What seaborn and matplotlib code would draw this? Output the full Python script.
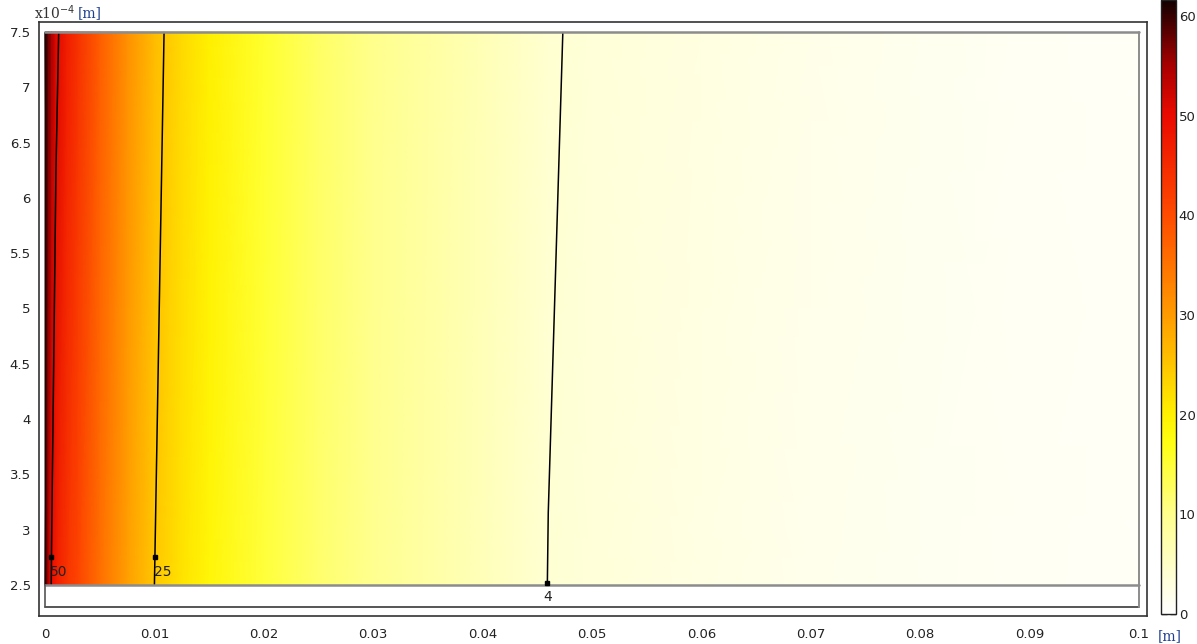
import numpy as np
import matplotlib
matplotlib.use("Agg")
import matplotlib.pyplot as plt
import seaborn as sns
from matplotlib.colors import LinearSegmentedColormap, Normalize
from matplotlib.ticker import FuncFormatter

# Field samples (x in m, y in 1e-4 m, values in colorbar units)
x_pos = [0, 0.0003, 0.0006, 0.001, 0.002, 0.003, 0.005, 0.0075, 0.01, 0.0125,
         0.015, 0.02, 0.025, 0.03, 0.04, 0.046, 0.05, 0.06, 0.07, 0.08, 0.09, 0.1]
y_rows = [2.5, 7.5]
val_bottom = [61.5, 53.5, 49.6, 47.0, 43.5, 41.0, 35.5, 29.5, 25.0, 21.5,
              19.0, 14.8, 12.0, 9.7, 6.1, 3.97, 3.4, 2.5, 1.9, 1.4, 1.05, 0.75]
val_top = [61.5, 58.0, 55.0, 51.0, 47.0, 44.0, 38.0, 31.5, 26.2, 22.8,
           20.0, 15.5, 12.5, 10.0, 6.3, 4.2, 3.6, 2.7, 2.0, 1.5, 1.1, 0.8]

contour_levels = [4, 25, 50]
label_text = ["4", "25", "50"]
label_y = [2.52, 2.75, 2.75]

x_ticks = [0, 0.01, 0.02, 0.03, 0.04, 0.05, 0.06, 0.07, 0.08, 0.09, 0.1]
y_ticks = [2.5, 3, 3.5, 4, 4.5, 5, 5.5, 6, 6.5, 7, 7.5]
cbar_ticks = [0, 10, 20, 30, 40, 50, 60]
v_max = 61.6

# colour ramp: white -> yellow -> orange -> red -> black
ramp_vals = [0, 4, 10, 17, 20, 30, 40, 50, 55, 61.6]
ramp_cols = ["#ffffff", "#ffffd2", "#ffff8c", "#ffff14", "#fff000", "#ff9b00",
             "#ff4b00", "#eb0a00", "#aa0000", "#140000"]

sns.set_theme(style="white")
plt.rcParams['font.family'] = ['DejaVu Sans']

cmap = LinearSegmentedColormap.from_list(
    "heat_r", list(zip(np.array(ramp_vals) / v_max, ramp_cols)))
norm = Normalize(vmin=0, vmax=v_max)

fig = plt.figure(figsize=(11.97, 6.44), dpi=100)
ax = fig.add_axes([39 / 1197, 1 - 616 / 644, (1147 - 39) / 1197, (616 - 22) / 644])
cax = fig.add_axes([1161 / 1197, 1 - 614 / 644, 15 / 1197, 614 / 644])

X, Y = np.meshgrid(x_pos, y_rows)
Z = np.array([val_bottom, val_top])
mesh = ax.pcolormesh(X, Y, Z, cmap=cmap, norm=norm, shading="gouraud", zorder=1)

cs = ax.contour(X, Y, Z, levels=contour_levels, colors="black", linewidths=1.1, zorder=3)

# geometry boundaries
ax.plot([0, 0.1], [7.5, 7.5], color="#8c8c8c", lw=1.8, zorder=4)
ax.plot([0, 0.1], [2.5, 2.5], color="#8c8c8c", lw=1.8, zorder=4)
ax.plot([0, 0.1], [2.3, 2.3], color="#555555", lw=1.4, zorder=4)
ax.plot([0.1, 0.1], [2.3, 7.5], color="#8c8c8c", lw=1.4, zorder=4)
ax.plot([0, 0], [2.3, 2.5], color="#555555", lw=1.2, zorder=4)

# contour labels with square markers
for lev, txt, ly in zip(contour_levels, label_text, label_y):
    seg = cs.allsegs[contour_levels.index(lev)][0]
    order = np.argsort(seg[:, 1])
    lx = np.interp(ly, seg[order, 1], seg[order, 0])
    ax.plot(lx, ly, marker="s", ms=3.5, color="black", zorder=5)
    if txt == "4":
        ax.text(lx, ly - 0.13, txt, ha="center", va="center", fontsize=10, color="#222222")
    else:
        ax.text(lx - 0.0001, ly - 0.13, txt, ha="left", va="center", fontsize=10, color="#222222")

ax.set_xlim(-0.00055, 0.10073)
ax.set_ylim(2.22, 7.59)
ax.set_xticks(x_ticks)
ax.set_yticks(y_ticks)
ax.xaxis.set_major_formatter(FuncFormatter(lambda v, p: f"{v:g}"))
ax.yaxis.set_major_formatter(FuncFormatter(lambda v, p: f"{v:g}"))
ax.tick_params(axis="both", length=0, labelsize=9.5, colors="#222222")
ax.tick_params(axis="x", pad=9)
ax.tick_params(axis="y", pad=6)
for sp in ax.spines.values():
    sp.set_color("#333333")
    sp.set_linewidth(1.2)

fig.text(34 / 1197, 1 - 13 / 644, r"x10$^{-4}$", fontsize=10, family="serif",
         color="#333333", va="center", ha="left")
fig.text(78 / 1197, 1 - 13 / 644, "[m]", fontsize=10, family="serif",
         color="#1f3f8f", va="center", ha="left")
fig.text(1170 / 1197, 1 - 636 / 644, "[m]", fontsize=10, family="serif",
         color="#1f3f8f", va="center", ha="center")

cb = fig.colorbar(mesh, cax=cax, ticks=cbar_ticks)
cb.outline.set_edgecolor("#222222")
cb.outline.set_linewidth(1.0)
cax.yaxis.set_ticks_position("both")
cax.tick_params(direction="in", length=4, width=1, labelsize=9.5, pad=2,
                colors="#222222", labelright=True, labelleft=False)
cax.set_yticklabels([str(t) for t in cbar_ticks])

fig.savefig("out.png", dpi=100)
